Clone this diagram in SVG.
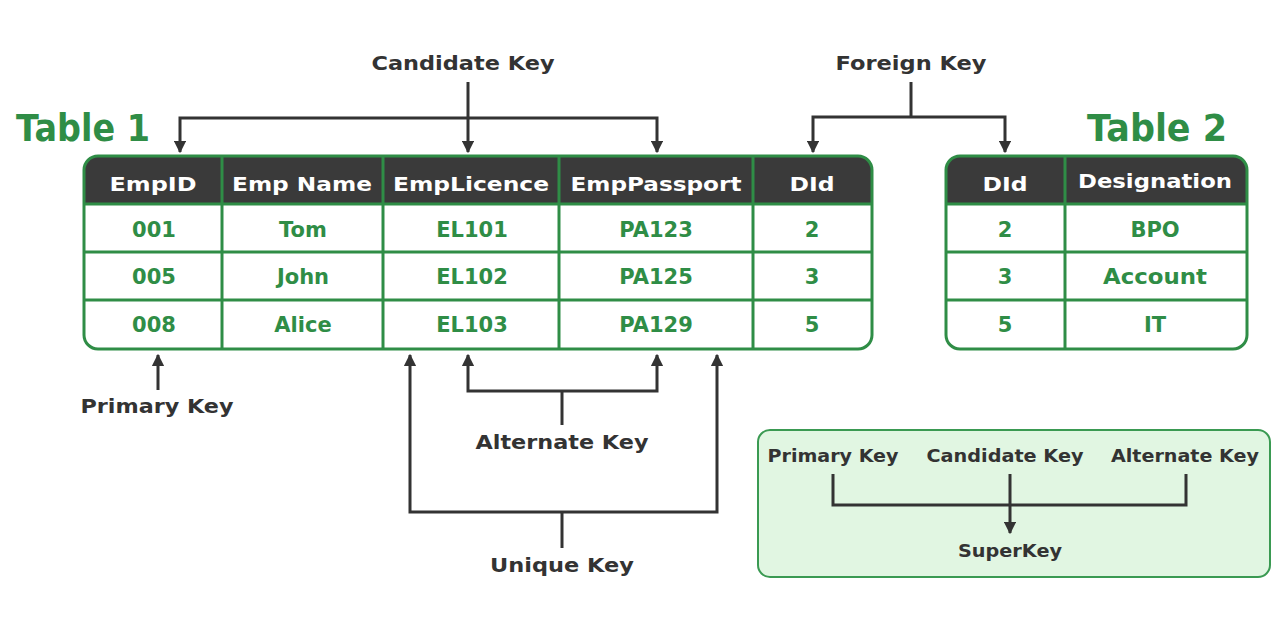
<svg xmlns="http://www.w3.org/2000/svg" width="1288" height="617" viewBox="0 0 1288 617">
<defs>
<style>
.lbl{font-family:"DejaVu Sans","Liberation Sans",sans-serif;font-weight:bold;font-size:20px;fill:#333333;text-anchor:middle}
.hd{font-family:"DejaVu Sans","Liberation Sans",sans-serif;font-weight:bold;font-size:20px;fill:#ffffff;text-anchor:middle}
.cell{font-family:"DejaVu Sans","Liberation Sans",sans-serif;font-weight:bold;font-size:21px;fill:#2f8d46;text-anchor:middle}
.title{font-family:"DejaVu Sans","Liberation Sans",sans-serif;font-weight:bold;font-size:37px;fill:#2f8d46;text-anchor:middle}
.sm{font-family:"DejaVu Sans","Liberation Sans",sans-serif;font-weight:bold;font-size:17px;fill:#333333;text-anchor:middle}
.grid{stroke:#2f8d46;stroke-width:3;fill:none}
.con{stroke:#333333;stroke-width:3;fill:none}
</style>
<marker id="ah" viewBox="0 0 10 10" refX="9" refY="5" markerWidth="4.2" markerHeight="4.2" orient="auto-start-reverse" markerUnits="strokeWidth">
<path d="M0,0 L10,5 L0,10 z" fill="#333333"/>
</marker>
</defs>
<rect width="1288" height="617" fill="#ffffff"/>

<g id="table1">
<text class="title" x="83" y="141" textLength="134" lengthAdjust="spacingAndGlyphs">Table 1</text>
<path d="M84,203 V170 a14,14 0 0 1 14,-14 H858 a14,14 0 0 1 14,14 V203 z" fill="#3a3a3a"/>
<rect x="84" y="156" width="788" height="193" rx="14" class="grid"/>
<line x1="84" y1="204" x2="872" y2="204" class="grid"/>
<line x1="84" y1="252" x2="872" y2="252" class="grid"/>
<line x1="84" y1="300" x2="872" y2="300" class="grid"/>
<line x1="222" y1="156" x2="222" y2="349" class="grid"/>
<line x1="383" y1="156" x2="383" y2="349" class="grid"/>
<line x1="559" y1="156" x2="559" y2="349" class="grid"/>
<line x1="753" y1="156" x2="753" y2="349" class="grid"/>
<text class="hd" x="153" y="191" textLength="87" lengthAdjust="spacingAndGlyphs">EmpID</text>
<text class="hd" x="302" y="191" textLength="140" lengthAdjust="spacingAndGlyphs">Emp Name</text>
<text class="hd" x="471" y="191" textLength="156" lengthAdjust="spacingAndGlyphs">EmpLicence</text>
<text class="hd" x="656" y="191" textLength="171" lengthAdjust="spacingAndGlyphs">EmpPassport</text>
<text class="hd" x="812" y="191" textLength="45" lengthAdjust="spacingAndGlyphs">DId</text>
<text class="cell" x="154" y="237">001</text>
<text class="cell" x="303" y="237">Tom</text>
<text class="cell" x="472" y="237">EL101</text>
<text class="cell" x="656" y="237">PA123</text>
<text class="cell" x="812" y="237">2</text>
<text class="cell" x="154" y="284">005</text>
<text class="cell" x="303" y="284">John</text>
<text class="cell" x="472" y="284">EL102</text>
<text class="cell" x="656" y="284">PA125</text>
<text class="cell" x="812" y="284">3</text>
<text class="cell" x="154" y="332">008</text>
<text class="cell" x="303" y="332">Alice</text>
<text class="cell" x="472" y="332">EL103</text>
<text class="cell" x="656" y="332">PA129</text>
<text class="cell" x="812" y="332">5</text>
</g>

<g id="table2">
<text class="title" x="1157" y="141" textLength="140" lengthAdjust="spacingAndGlyphs">Table 2</text>
<path d="M946,203 V170 a14,14 0 0 1 14,-14 H1233 a14,14 0 0 1 14,14 V203 z" fill="#3a3a3a"/>
<rect x="946" y="156" width="301" height="193" rx="14" class="grid"/>
<line x1="946" y1="204" x2="1247" y2="204" class="grid"/>
<line x1="946" y1="252" x2="1247" y2="252" class="grid"/>
<line x1="946" y1="300" x2="1247" y2="300" class="grid"/>
<line x1="1065" y1="156" x2="1065" y2="349" class="grid"/>
<text class="hd" x="1005" y="191" textLength="45" lengthAdjust="spacingAndGlyphs">DId</text>
<text class="hd" x="1155" y="188" textLength="154" lengthAdjust="spacingAndGlyphs">Designation</text>
<text class="cell" x="1005" y="237">2</text>
<text class="cell" x="1155" y="237">BPO</text>
<text class="cell" x="1005" y="284">3</text>
<text class="cell" x="1155" y="284" textLength="104" lengthAdjust="spacingAndGlyphs">Account</text>
<text class="cell" x="1005" y="332">5</text>
<text class="cell" x="1155" y="332">IT</text>
</g>

<g id="labels">
<text class="lbl" x="463" y="70" textLength="183" lengthAdjust="spacingAndGlyphs">Candidate Key</text>
<text class="lbl" x="911" y="70" textLength="151" lengthAdjust="spacingAndGlyphs">Foreign Key</text>
<text class="lbl" x="157" y="413" textLength="153" lengthAdjust="spacingAndGlyphs">Primary Key</text>
<text class="lbl" x="562" y="449" textLength="173" lengthAdjust="spacingAndGlyphs">Alternate Key</text>
<text class="lbl" x="562" y="572" textLength="144" lengthAdjust="spacingAndGlyphs">Unique Key</text>
</g>

<g id="superkey">
<rect x="758" y="430" width="512" height="147" rx="12" fill="#e1f6e2" stroke="#3a9a52" stroke-width="2"/>
<text class="sm" x="833" y="462" textLength="131" lengthAdjust="spacingAndGlyphs">Primary Key</text>
<text class="sm" x="1005" y="462" textLength="157" lengthAdjust="spacingAndGlyphs">Candidate Key</text>
<text class="sm" x="1185" y="462" textLength="148" lengthAdjust="spacingAndGlyphs">Alternate Key</text>
<text class="sm" x="1010" y="557" textLength="104" lengthAdjust="spacingAndGlyphs">SuperKey</text>
</g>

<g id="connectors">
<path class="con" d="M468,82 V118"/>
<path class="con" d="M180,152 V118 H657 V152" marker-start="url(#ah)" marker-end="url(#ah)"/>
<path class="con" d="M468,118 V152" marker-end="url(#ah)"/>
<path class="con" d="M911,82 V117"/>
<path class="con" d="M813,152 V117 H1005 V152" marker-start="url(#ah)" marker-end="url(#ah)"/>
<path class="con" d="M158,390 V355" marker-end="url(#ah)"/>
<path class="con" d="M468,355 V391 H657 V355" marker-start="url(#ah)" marker-end="url(#ah)"/>
<path class="con" d="M562,391 V425"/>
<path class="con" d="M410,355 V512 H717 V355" marker-start="url(#ah)" marker-end="url(#ah)"/>
<path class="con" d="M562,512 V548"/>
<path class="con" d="M833,474 V505 H1186 V474"/>
<path class="con" d="M1010,474 V533" marker-end="url(#ah)"/>
</g>
</svg>
